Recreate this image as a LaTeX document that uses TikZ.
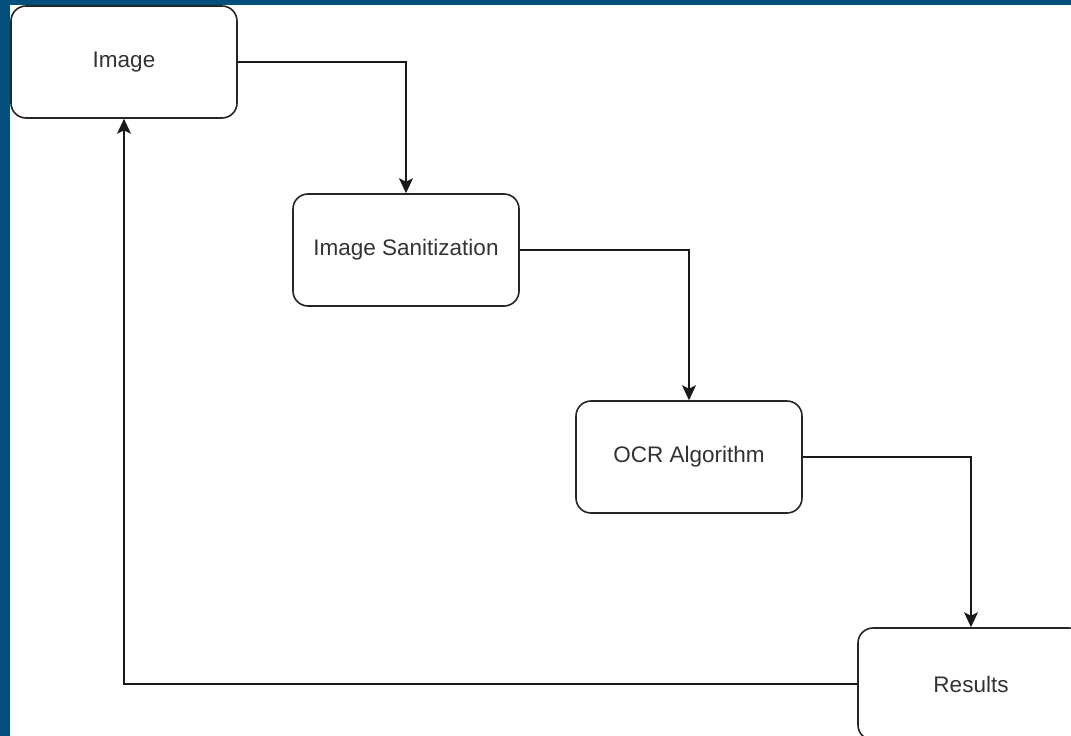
\documentclass[tikz,border=0pt]{standalone}
\usepackage{fontspec}
\setmainfont{Liberation Sans}
\usetikzlibrary{arrows.meta}
\definecolor{frameblue}{RGB}{2,80,126}
\definecolor{txtgray}{RGB}{51,51,51}
\tikzset{
  stepbox/.style={draw=black!85, line width=1.6pt, rounded corners=15pt, fill=white,
    minimum width=226pt, minimum height=112pt, inner sep=0pt,
    text=txtgray, font=\fontsize{22.5}{26}\selectfont},
  flow/.style={draw=black!90, line width=1.4pt, -{Stealth[length=15pt,width=14pt,inset=3.5pt]}}
}
\begin{document}
\begin{tikzpicture}[x=1pt,y=-1pt]
\useasboundingbox (0,0) rectangle (1071,736);
\clip (0,0) rectangle (1071,736);
\fill[frameblue] (0,0) rectangle (1071,736);
\fill[white] (10,5) rectangle (1071,736);
\node[stepbox] (img) at (124,62) {Image};
\node[stepbox] (san) at (406,250) {Image Sanitization};
\node[stepbox] (ocr) at (689,457) {OCR Algorithm};
\node[stepbox] (res) at (971,684) {Results};
\draw[flow] (img.east) -| (san.north);
\draw[flow] (san.east) -| (ocr.north);
\draw[flow] (ocr.east) -| (res.north);
\draw[flow] (res.west) -| (img.south);
\end{tikzpicture}
\end{document}
